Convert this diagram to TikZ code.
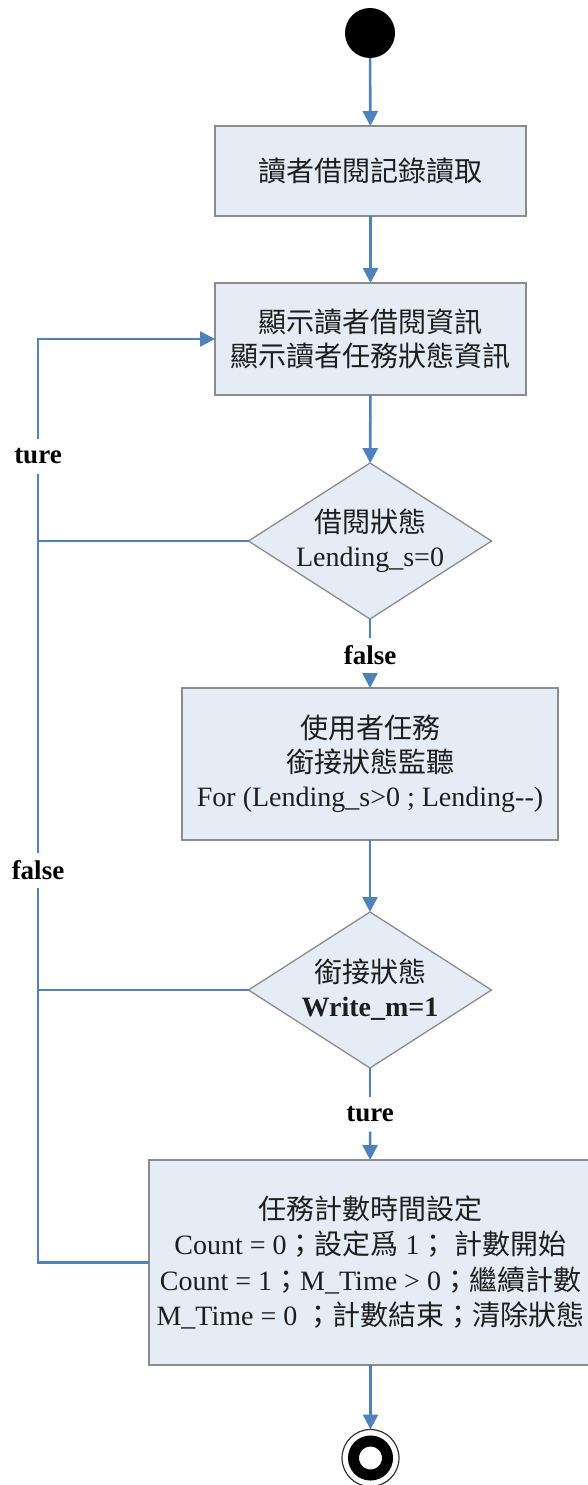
\documentclass[tikz,border=0pt]{standalone}
\usepackage{fontspec}
\setmainfont{Liberation Serif}
\newfontfamily\cjk{Noto Sans CJK TC}
\usetikzlibrary{shapes.geometric,arrows.meta}
\definecolor{flowblue}{RGB}{79,129,189}
\definecolor{boxfill}{RGB}{230,236,246}
\definecolor{boxline}{RGB}{140,140,140}
\definecolor{ink}{RGB}{30,30,30}

\begin{document}
\begin{tikzpicture}[x=1pt,y=-1pt,
  every node/.style={inner sep=0pt, outer sep=0pt, text=ink},
  txt/.style={font=\fontsize{28}{34}\selectfont, align=center},
  action/.style={txt, rectangle, draw=boxline, line width=1.3pt, fill=boxfill},
  decision/.style={diamond, draw=boxline, line width=1.3pt, fill=boxfill,
                   minimum width=243pt, minimum height=156pt},
  guard/.style={font=\fontsize{27}{30}\selectfont\bfseries, minimum height=35pt, text=black},
  flow/.style={draw=flowblue, line width=2.6pt},
  arrow/.style={flow, -{Triangle[length=15pt,width=15pt]}},
]
\useasboundingbox (0,0) rectangle (588,1485);
\fill[white] (0,0) rectangle (588,1485);

% activity nodes
\node[circle, fill=black, minimum size=50pt] (start) at (370,33) {};
\node[action, minimum width=311pt, minimum height=90pt] (b1) at (370.5,171)
  {\cjk 讀者借閱記錄讀取};
\node[action, minimum width=311pt, minimum height=112pt] (b2) at (370.5,339)
  {{\cjk 顯示讀者借閱資訊}\\{\cjk 顯示讀者任務狀態資訊}};

% decision: borrowing state
\node[decision] (d1) at (370,541) {};
\node[txt] (d1t) at (d1.center) {{\cjk 借閱狀態}\\Lending\_s=0};

\node[action, minimum width=376pt, minimum height=152pt] (b3) at (370,764)
  {{\cjk 使用者任務}\\{\cjk 銜接狀態監聽}\\For (Lending\_s>0 ; Lending-{}-)};

% decision: link state
\node[decision] (d2) at (370,990) {};
\node[txt] (d2t) at (d2.center) {{\cjk 銜接狀態}\\\textbf{Write\_m=1}};

\node[action, minimum width=443pt, minimum height=205pt,
      font=\fontsize{28}{35.5}\selectfont] (b4) at (370.5,1262.5)
  {{\cjk 任務計數時間設定}\\
   Count = 0{\cjk ；設定爲} 1{\cjk ；} {\cjk 計數開始}\\
   Count = 1{\cjk ；}M\_Time > 0{\cjk ；繼續計數}\\
   M\_Time = 0 {\cjk ；計數結束；清除狀態}};
\node[circle, draw=black!80, line width=1.2pt, minimum size=57pt] (end) at (370.5,1458) {};
\draw[line width=11pt] (end.center) circle[radius=17pt];

% guard labels
\node[guard] (g1) at (370,655) {false};
\node[guard] (g2) at (370,1114) {ture};
\node[guard] (g3) at (38,456) {ture};
\node[guard] (g4) at (38,870) {false};

% main flow
\draw[arrow] (start) -- (b1);
\draw[arrow] (b1) -- (b2);
\draw[arrow] (b2) -- (d1);
\draw[flow] (d1) -- (g1);
\draw[arrow] (g1) -- (b3);
\draw[arrow] (b3) -- (d2);
\draw[flow] (d2) -- (g2);
\draw[arrow] (g2) -- (b4);
\draw[arrow] (b4) -- (end);

% loop-back branch on the left
\draw[flow] (d1.west) -| (g3.south);
\draw[arrow] (g3.north) |- (b2.west);
\draw[flow] (d1.west -| g3.south) -- (g4.north);
\draw[flow] (d2.west) -- (d2.west -| g4.south);
\draw[flow] (g4.south) |- (b4.west);
\end{tikzpicture}
\end{document}
